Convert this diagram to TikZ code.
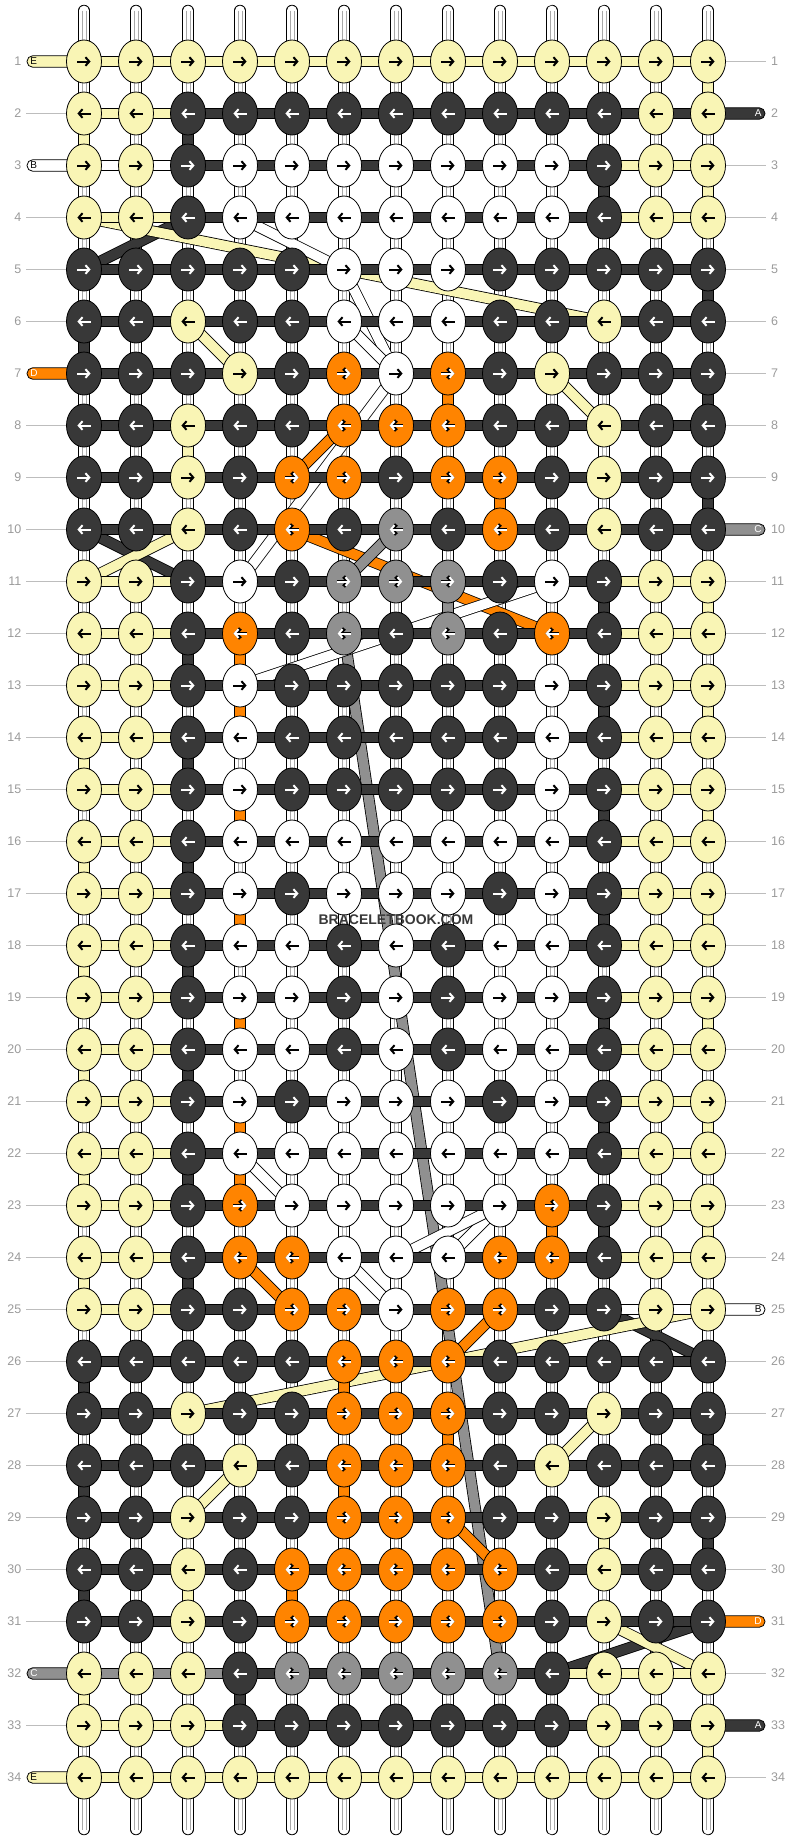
\documentclass[tikz,border=0pt]{standalone}
\usepackage{fontspec}
\setmainfont{Liberation Sans}
\usetikzlibrary{arrows.meta,shapes.geometric}
\definecolor{kY}{HTML}{F9F5B5}
\definecolor{kD}{HTML}{383838}
\definecolor{kW}{HTML}{FFFFFF}
\definecolor{kO}{HTML}{FF8400}
\definecolor{kG}{HTML}{909090}
\definecolor{lblgray}{HTML}{9A9A9A}
\definecolor{warpgray}{HTML}{A8A8A8}
\definecolor{linegray}{HTML}{BDBDBD}
\tikzset{
  knot/.style={ellipse, draw=black, line width=0.8pt, minimum width=35pt, minimum height=43pt, inner sep=0pt},
  bandout/.style={line width=11.4pt, draw=black},
  bandin/.style={line width=9.8pt, draw=#1},
  lbl/.style={text=lblgray, font=\fontsize{12.5}{14}\selectfont, inner sep=0pt},
  rowline/.style={draw=linegray, line width=0.9pt},
  tagbox/.style={draw=black, line width=0.8pt, fill=#1, rounded corners=5.6pt},
  tagtext/.style={font=\fontsize{10}{11}\selectfont, inner sep=0pt, text=#1},
  arrU/.style={line width=3.6pt, -{Straight Barb[length=4.6pt,width=10pt]}},
  arrO/.style={line width=2pt, -{Straight Barb[length=3.8pt,width=8.6pt]}},
  auY/.style={draw=none}, auW/.style={draw=none}, auD/.style={draw=none},
  auO/.style={draw=black}, auG/.style={draw=black},
  aoY/.style={draw=black}, aoW/.style={draw=black}, aoD/.style={draw=white},
  aoO/.style={draw=white}, aoG/.style={draw=white},
}
\begin{document}
\begin{tikzpicture}[x=1pt,y=-1pt]
\useasboundingbox (0,0) rectangle (792,1840);
% grid coordinates
\foreach \r in {1,...,34} {
  \foreach \c in {1,...,13} {
    \coordinate (p\r-\c) at ({84+52*(\c-1)},{61.5+52*(\r-1)});
  }
}
% warps
\foreach \c in {1,...,13} {
  \coordinate (wt\c) at ({84+52*(\c-1)},10.5);
  \coordinate (wb\c) at ({84+52*(\c-1)},1829.5);
  \draw[line width=11.4pt, black, line cap=round] (wt\c) -- (wb\c);
  \draw[line width=9.8pt, white, line cap=round] (wt\c) -- (wb\c);
  \draw[line width=0.6pt, warpgray] ([xshift=-2pt]wt\c) -- ([xshift=-2pt]wb\c);
  \draw[line width=0.6pt, warpgray] ([xshift=2pt]wt\c) -- ([xshift=2pt]wb\c);
}
% diagonal strands
\foreach \ra/\ca/\rb/\cb/\k in {4/3/5/1/D, 4/1/6/11/Y, 4/4/5/6/W, 5/6/7/7/W, 6/3/7/4/Y, 6/6/7/7/W, 7/10/8/11/Y,
  7/7/11/4/W, 8/6/9/5/O, 10/5/12/10/O, 10/7/11/6/G, 10/1/11/3/D, 10/3/11/1/Y, 12/6/32/9/G,
  11/10/13/4/W, 22/4/23/5/W, 24/4/25/5/O, 24/6/25/7/W, 24/8/23/9/W, 24/7/23/9/W, 26/8/25/9/O, 25/11/26/13/D,
  27/3/25/13/Y, 29/3/28/4/Y, 28/10/27/11/Y, 29/8/30/9/O, 32/10/31/13/D, 31/11/32/13/Y} {
  \draw[bandout] (p\ra-\ca) -- (p\rb-\cb);
  \draw[bandin=k\k] (p\ra-\ca) -- (p\rb-\cb);
}
% vertical coloured segments
\foreach \r/\c/\k in {1/13/Y, 2/1/Y, 2/3/D, 3/11/D, 3/13/Y, 5/13/D, 6/1/D, 7/8/O, 7/13/D, 8/3/Y,
  9/9/O, 9/13/D, 11/8/G, 11/11/D, 11/13/Y, 12/3/D, 12/4/O, 13/4/O, 13/11/D, 13/13/Y, 14/1/Y, 14/3/D,
  15/4/O, 15/11/D, 15/13/Y, 16/1/Y, 16/3/D, 17/4/O, 17/11/D, 17/13/Y, 18/1/Y, 18/3/D, 19/4/O,
  19/11/D, 19/13/Y, 20/1/Y, 20/3/D, 21/4/O, 21/11/D, 21/13/Y, 22/1/Y, 22/3/D, 22/4/O, 23/10/O,
  23/11/D, 23/13/Y, 24/1/Y, 24/3/D, 26/1/D, 26/6/O, 27/8/O, 27/13/D, 28/1/D, 28/6/O, 29/11/Y,
  29/13/D, 30/1/D, 30/3/Y, 30/5/O, 32/1/Y, 32/4/D, 33/13/Y} {
  \pgfmathtruncatemacro\rr{\r+1}
  \draw[bandout] (p\r-\c) -- (p\rr-\c);
  \draw[bandin=k\k] (p\r-\c) -- (p\rr-\c);
}
% tags
\foreach \r/\k/\t/\tc in {1/Y/E/black, 3/W/B/black, 7/O/D/white, 32/G/C/white, 34/Y/E/black} {
  \coordinate (tl\r) at (27,{61.5+52*(\r-1)});
  \draw[tagbox=k\k] ([yshift=-5.7pt]tl\r) rectangle ([yshift=5.7pt]p\r-1);
  \node[tagtext=\tc, anchor=west] (tagL\r) at ([xshift=3.2pt]tl\r) {\t};
}
\foreach \r/\k in {2/D, 10/G, 25/W, 31/O, 33/D} {
  \coordinate (tr\r) at (765,{61.5+52*(\r-1)});
  \draw[tagbox=k\k] ([yshift=-5.7pt]p\r-13) rectangle ([yshift=5.7pt]tr\r);
}
\foreach \r/\t/\tc in {2/A/white, 10/C/white, 25/B/black, 31/D/white, 33/A/white} {
  \node[tagtext=\tc, anchor=east] (tagR\r) at ([xshift=-3.2pt]tr\r) {\t};
}
% horizontal bars
\foreach \row [count=\r] in {
 {Y,Y,Y,Y,Y,Y,Y,Y,Y,Y,Y,Y},{Y,Y,D,D,D,D,D,D,D,D,D,D},{W,W,D,D,D,D,D,D,D,D,Y,Y},{Y,Y,D,D,D,D,D,D,D,D,Y,Y},
 {D,D,D,D,D,D,D,D,D,D,D,D},{D,D,D,D,D,D,D,D,D,D,D,D},{D,D,D,D,D,D,D,D,D,D,D,D},{D,D,D,D,D,D,D,D,D,D,D,D},
 {D,D,D,D,D,D,D,D,D,D,D,D},{D,D,D,D,D,D,D,D,D,D,D,D},{Y,Y,D,D,D,D,D,D,D,D,Y,Y},{Y,Y,D,D,D,D,D,D,D,D,Y,Y},
 {Y,Y,D,D,D,D,D,D,D,D,Y,Y},{Y,Y,D,D,D,D,D,D,D,D,Y,Y},{Y,Y,D,D,D,D,D,D,D,D,Y,Y},{Y,Y,D,D,D,D,D,D,D,D,Y,Y},
 {Y,Y,D,D,D,D,D,D,D,D,Y,Y},{Y,Y,D,D,D,D,D,D,D,D,Y,Y},{Y,Y,D,D,D,D,D,D,D,D,Y,Y},{Y,Y,D,D,D,D,D,D,D,D,Y,Y},
 {Y,Y,D,D,D,D,D,D,D,D,Y,Y},{Y,Y,D,D,D,D,D,D,D,D,Y,Y},{Y,Y,D,D,D,D,D,D,D,D,Y,Y},{Y,Y,D,D,D,D,D,D,D,D,Y,Y},
 {Y,Y,D,D,D,D,D,D,D,D,W,W},{D,D,D,D,D,D,D,D,D,D,D,D},{D,D,D,D,D,D,D,D,D,D,D,D},{D,D,D,D,D,D,D,D,D,D,D,D},
 {D,D,D,D,D,D,D,D,D,D,D,D},{D,D,D,D,D,D,D,D,D,D,D,D},{D,D,D,D,D,D,D,D,D,D,D,D},{G,G,G,D,D,D,D,D,D,Y,Y,Y},
 {Y,Y,Y,D,D,D,D,D,D,D,D,D},{Y,Y,Y,Y,Y,Y,Y,Y,Y,Y,Y,Y}} {
  \foreach \k [count=\i] in \row {
    \pgfmathtruncatemacro\j{\i+1}
    \draw[bandout] (p\r-\i) -- (p\r-\j);
    \draw[bandin=k\k] (p\r-\i) -- (p\r-\j);
  }
}
% knots with arrows
\foreach \row [count=\r] in {
 {Y,Y,Y,Y,Y,Y,Y,Y,Y,Y,Y,Y,Y},{Y,Y,D,D,D,D,D,D,D,D,D,Y,Y},{Y,Y,D,W,W,W,W,W,W,W,D,Y,Y},{Y,Y,D,W,W,W,W,W,W,W,D,Y,Y},
 {D,D,D,D,D,W,W,W,D,D,D,D,D},{D,D,Y,D,D,W,W,W,D,D,Y,D,D},{D,D,D,Y,D,O,W,O,D,Y,D,D,D},{D,D,Y,D,D,O,O,O,D,D,Y,D,D},
 {D,D,Y,D,O,O,D,O,O,D,Y,D,D},{D,D,Y,D,O,D,G,D,O,D,Y,D,D},{Y,Y,D,W,D,G,G,G,D,W,D,Y,Y},{Y,Y,D,O,D,G,D,G,D,O,D,Y,Y},
 {Y,Y,D,W,D,D,D,D,D,W,D,Y,Y},{Y,Y,D,W,D,D,D,D,D,W,D,Y,Y},{Y,Y,D,W,D,D,D,D,D,W,D,Y,Y},{Y,Y,D,W,W,W,W,W,W,W,D,Y,Y},
 {Y,Y,D,W,D,W,W,W,D,W,D,Y,Y},{Y,Y,D,W,W,D,W,D,W,W,D,Y,Y},{Y,Y,D,W,W,D,W,D,W,W,D,Y,Y},{Y,Y,D,W,W,D,W,D,W,W,D,Y,Y},
 {Y,Y,D,W,D,W,W,W,D,W,D,Y,Y},{Y,Y,D,W,W,W,W,W,W,W,D,Y,Y},{Y,Y,D,O,W,W,W,W,W,O,D,Y,Y},{Y,Y,D,O,O,W,W,W,O,O,D,Y,Y},
 {Y,Y,D,D,O,O,W,O,O,D,D,Y,Y},{D,D,D,D,D,O,O,O,D,D,D,D,D},{D,D,Y,D,D,O,O,O,D,D,Y,D,D},{D,D,D,Y,D,O,O,O,D,Y,D,D,D},
 {D,D,Y,D,D,O,O,O,D,D,Y,D,D},{D,D,Y,D,O,O,O,O,O,D,Y,D,D},{D,D,Y,D,O,O,O,O,O,D,Y,D,D},{Y,Y,Y,D,G,G,G,G,G,D,Y,Y,Y},
 {Y,Y,Y,D,D,D,D,D,D,D,Y,Y,Y},{Y,Y,Y,Y,Y,Y,Y,Y,Y,Y,Y,Y,Y}} {
  \pgfmathsetmacro\d{ifthenelse(isodd(\r),6.6,-6.6)}
  \foreach \k [count=\i] in \row {
    \node[knot, fill=k\k] (n\r-\i) at (p\r-\i) {};
    \pgfmathsetmacro\ax{84+52*(\i-1)-\d}
    \pgfmathsetmacro\bx{84+52*(\i-1)+\d}
    \pgfmathsetmacro\yy{61.5+52*(\r-1)}
    \draw[arrU, au\k] (\ax,\yy) -- (\bx,\yy);
    \draw[arrO, ao\k] (\ax,\yy) -- (\bx,\yy);
  }
}
% row labels and lines
\foreach \r in {1,...,34} {
  \node[lbl, anchor=east] (ll\r) at (21.5,{61.5+52*(\r-1)}) {\r};
  \node[lbl, anchor=west] (lr\r) at (771,{61.5+52*(\r-1)}) {\r};
}
\foreach \r in {2,4,5,6,8,9,10,11,12,13,14,15,16,17,18,19,20,21,22,23,24,25,26,27,28,29,30,31,33} {
  \coordinate (la\r) at (26,{61.5+52*(\r-1)});
  \draw[rowline] (la\r) -- ([xshift=-17.6pt]p\r-1);
}
\foreach \r in {1,3,4,5,6,7,8,9,11,12,13,14,15,16,17,18,19,20,21,22,23,24,26,27,28,29,30,32,34} {
  \coordinate (ra\r) at (766,{61.5+52*(\r-1)});
  \draw[rowline] ([xshift=17.6pt]p\r-13) -- (ra\r);
}
% watermark
\node[font=\bfseries\fontsize{14}{16}\selectfont, text=kD, inner sep=0pt] (wm) at (396,919.5) {BRACELETBOOK.COM};
\end{tikzpicture}
\end{document}
